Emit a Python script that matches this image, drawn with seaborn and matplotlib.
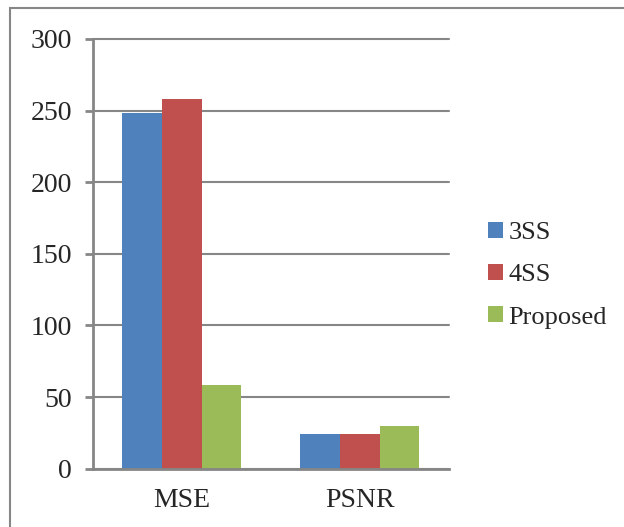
import pandas as pd
import matplotlib.pyplot as plt
import seaborn as sns
from matplotlib.patches import Rectangle

metrics = ['MSE', 'PSNR']
methods = ['3SS', '4SS', 'Proposed']
mse_vals = [248, 258, 58.3]
psnr_vals = [24, 24, 30]
colors = ['#4F81BD', '#C0504D', '#9BBB59']

data = pd.DataFrame({
    'Metric': ['MSE'] * 3 + ['PSNR'] * 3,
    'Method': methods * 2,
    'Value': mse_vals + psnr_vals,
})

sns.set_style('white')
plt.rcParams['font.family'] = ['Liberation Serif', 'DejaVu Serif']

fig = plt.figure(figsize=(6.24, 5.27), dpi=100)
ax = fig.add_axes([0.1486, 0.1106, 0.5704, 0.8154])

sns.barplot(x='Metric', y='Value', hue='Method', data=data, order=metrics,
            hue_order=methods, palette=colors, width=0.67, gap=0,
            linewidth=0, saturation=1, ax=ax)

ax.set_xlim(-0.5, 1.5)
ax.set_ylim(0, 300)
ax.set_yticks(range(0, 301, 50))
ax.set_xlabel('')
ax.set_ylabel('')
ax.grid(axis='y', color='#868686', linewidth=1.5)
for gl in ax.get_ygridlines():
    gl.set_clip_on(False)
ax.set_axisbelow(True)

axis_col = '#868686'
for s in ['top', 'right']:
    ax.spines[s].set_visible(False)
for s in ['left', 'bottom']:
    ax.spines[s].set_color(axis_col)
    ax.spines[s].set_linewidth(2)

ax.set_xticks([0, 1])
ax.set_xticklabels(metrics)
ax.set_xticks([-0.5, 0.5, 1.5], minor=True)
ax.tick_params(axis='x', which='major', length=0, pad=14, labelsize=20)
ax.tick_params(axis='x', which='minor', length=6, width=2, color=axis_col, direction='out')
ax.tick_params(axis='y', length=6, width=2, color=axis_col, direction='out',
               left=True, labelsize=20, pad=9)

leg = ax.legend(loc='center left', bbox_to_anchor=(1.045, 0.45), frameon=False,
                fontsize=19, handlelength=0.55, handleheight=0.55,
                handletextpad=0.2, labelspacing=0.75)

fig.patches.append(Rectangle((10 / 624, -0.05), 1.2, 1 - 8 / 527 + 0.05,
                             transform=fig.transFigure, fill=False,
                             edgecolor='#868686', linewidth=1.5))

fig.savefig('out.png', dpi=100)
